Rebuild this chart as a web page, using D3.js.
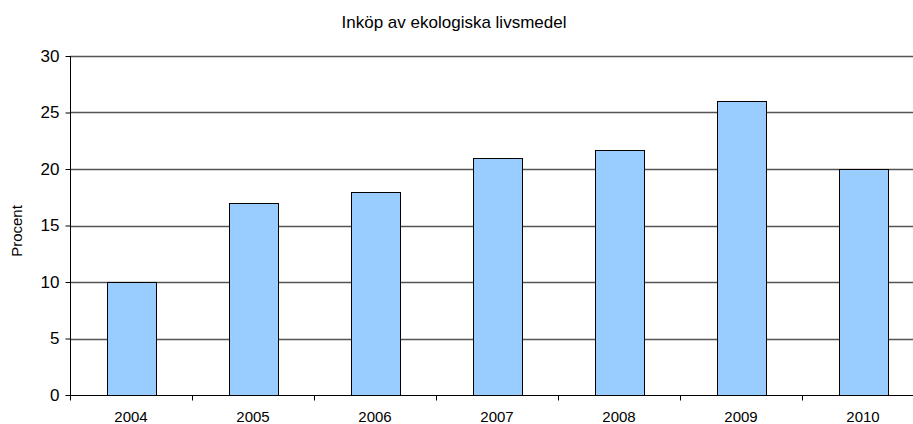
<!DOCTYPE html>
<html>
<head>
<meta charset="utf-8">
<script src="https://cdn.jsdelivr.net/npm/d3@7"></script>
<style>
  body { margin: 0; background: #fff; overflow: hidden; }
  text { font-family: "Liberation Sans", Arial, sans-serif; fill: #000; }
</style>
</head>
<body>
<svg id="chart"></svg>
<script>
var years = ["2004", "2005", "2006", "2007", "2008", "2009", "2010"];
var values = [10, 17, 18, 21, 21.7, 26, 20];
var yTicks = [0, 5, 10, 15, 20, 25, 30];
var title = "Inköp av ekologiska livsmedel";
var yLabel = "Procent";

var width = 913, height = 424;
// plot area runs past the right edge of the picture (cropped)
var plotLeft = 70, plotRight = 924, plotTop = 56, plotBottom = 395;
var svg = d3.select("#chart").attr("width", width).attr("height", height);

var xCat = d3.scaleBand().domain(years).range([plotLeft, plotRight]);
var barW = xCat.bandwidth() * 0.4;
var y = d3.scaleLinear().domain([0, 30]).range([plotBottom, plotTop]);

// title
svg.append("text")
    .attr("x", 454)
    .attr("y", 28)
    .attr("text-anchor", "middle")
    .style("font-size", "17px")
    .text(title);

// gridlines
svg.append("g")
    .selectAll("line")
    .data(yTicks.filter(function (d) { return d > 0; }))
    .enter()
    .append("line")
    .attr("x1", plotLeft)
    .attr("x2", plotRight)
    .attr("y1", function (d) { return Math.round(y(d)) + 0.5; })
    .attr("y2", function (d) { return Math.round(y(d)) + 0.5; })
    .attr("stroke", "#555")
    .attr("stroke-width", 1.3);

// bars
svg.append("g")
    .selectAll("rect")
    .data(values)
    .enter()
    .append("rect")
    .attr("x", function (d, i) { return Math.round(xCat(years[i]) + xCat.bandwidth() / 2 - barW / 2) + 0.5; })
    .attr("y", function (d) { return Math.round(y(d)) + 0.5; })
    .attr("width", Math.round(barW))
    .attr("height", function (d) { return Math.round(y(0)) - Math.round(y(d)); })
    .attr("fill", "#99ccff")
    .attr("stroke", "#000")
    .attr("stroke-width", 1);

// y axis
var yAxis = d3.axisLeft(y).tickValues(yTicks).tickSize(5).tickPadding(6);
var gy = svg.append("g")
    .attr("transform", "translate(" + (plotLeft + 0.5) + ",0)")
    .call(yAxis);
gy.selectAll("text").style("font-size", "17px");
gy.selectAll("line, path").attr("stroke", "#000");
gy.select(".domain").attr("d", "M0," + y(30) + "V" + y(0));

// x axis
var gx = svg.append("g")
    .attr("transform", "translate(0," + (Math.round(y(0)) + 0.5) + ")");
gx.append("line")
    .attr("x1", plotLeft)
    .attr("x2", plotRight)
    .attr("stroke", "#000");
gx.selectAll(".tick")
    .data(years)
    .enter()
    .append("line")
    .attr("x1", function (d) { return Math.round(xCat(d)) + 0.5; })
    .attr("x2", function (d) { return Math.round(xCat(d)) + 0.5; })
    .attr("y1", 0)
    .attr("y2", 5)
    .attr("stroke", "#000");
gx.selectAll("text")
    .data(years)
    .enter()
    .append("text")
    .attr("x", function (d) { return xCat(d) + xCat.bandwidth() / 2; })
    .attr("y", 26)
    .attr("text-anchor", "middle")
    .style("font-size", "15px")
    .text(function (d) { return d; });

// y label
svg.append("text")
    .attr("transform", "translate(22,231) rotate(-90)")
    .attr("text-anchor", "middle")
    .style("font-size", "15px")
    .text(yLabel);
</script>
</body>
</html>
